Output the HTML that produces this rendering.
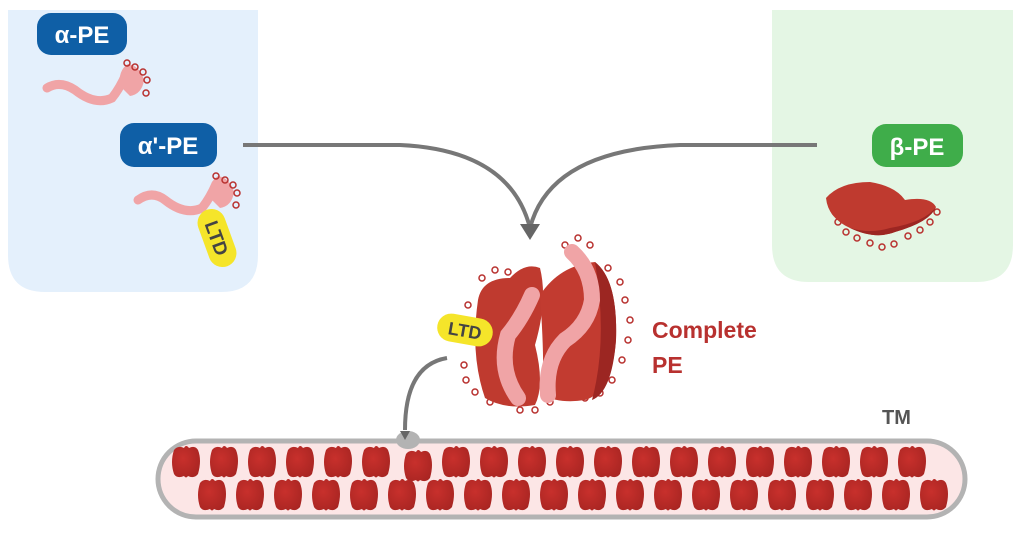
<!DOCTYPE html>
<html><head><meta charset="utf-8"><style>
html,body{margin:0;padding:0;background:#fff;}
body{width:1023px;height:530px;overflow:hidden;font-family:"Liberation Sans",sans-serif;}
</style></head><body>
<svg width="1023" height="530" viewBox="0 0 1023 530" xmlns="http://www.w3.org/2000/svg">
<defs>
<radialGradient id="dk" cx="40%" cy="40%" r="70%"><stop offset="0" stop-color="#c8302c"/><stop offset="1" stop-color="#a82522"/></radialGradient>
<g id="disc"><path d="M-12,-12 Q-8,-17 -2,-14 Q0,-18 3,-14 Q9,-17 12,-12 Q16,-2 12,12 Q8,17 2,14 Q0,17 -2,14 Q-9,17 -12,12 Q-16,0 -12,-12Z" fill="url(#dk)"/></g>
</defs>
<path d="M8,10 H258 V255 Q258,292 221,292 H45 Q8,292 8,255Z" fill="#e4f0fc"/>
<path d="M772,10 H1013 V245 Q1013,282 976,282 H809 Q772,282 772,245Z" fill="#e4f6e4"/>
<rect x="37" y="13" width="90" height="42" rx="14" fill="#0f5fa6"/>
<text x="82" y="43" font-size="24" font-weight="bold" fill="#fff" text-anchor="middle">α-PE</text>
<rect x="120" y="123" width="97" height="44" rx="14" fill="#0f5fa6"/>
<text x="168" y="154" font-size="24" font-weight="bold" fill="#fff" text-anchor="middle">α'-PE</text>
<rect x="872" y="124" width="91" height="43" rx="14" fill="#3fad4a"/>
<text x="917" y="155" font-size="24" font-weight="bold" fill="#fff" text-anchor="middle">β-PE</text>
<g fill="none" stroke-linecap="round">
<path d="M47,88 Q60,80 75,90 Q95,106 112,98 Q120,88 126,74" stroke="#f0a4a6" stroke-width="9"/>
<path d="M138,200 Q152,190 165,200 Q185,216 202,208 Q210,198 216,184" stroke="#f0a4a6" stroke-width="9"/>
</g>
<path d="M120,86 Q118,70 128,64 Q140,66 144,80 Q142,94 130,96 Z" fill="#f0a4a6"/>
<path d="M210,198 Q208,182 218,176 Q230,178 234,192 Q232,206 220,208 Z" fill="#f0a4a6"/>
<g fill="none" stroke="#b8312f" stroke-width="1.5">
<circle cx="127" cy="63" r="3"/><circle cx="135" cy="67" r="3"/><circle cx="143" cy="72" r="3"/><circle cx="147" cy="80" r="3"/><circle cx="146" cy="93" r="3"/>
<circle cx="216" cy="176" r="3"/><circle cx="225" cy="180" r="3"/><circle cx="233" cy="185" r="3"/><circle cx="237" cy="193" r="3"/><circle cx="236" cy="205" r="3"/>
</g>
<g transform="translate(217,238) rotate(70)"><rect x="-30" y="-14" width="60" height="28" rx="14" fill="#f5e52a"/><text x="0" y="7" font-size="19" font-weight="bold" fill="#444" text-anchor="middle">LTD</text></g>
<g fill="none" stroke="#777" stroke-width="4">
<path d="M243,145 H400 Q510,150 530,228"/>
<path d="M817,145 H680 Q550,150 530,228"/>
<path d="M447,358 Q405,365 405,430"/>
</g>
<path d="M520,224 L540,224 L530,240Z" fill="#666"/>
<g fill="none" stroke="#b8312f" stroke-width="1.5">
<circle cx="835" cy="212" r="3"/><circle cx="838" cy="222" r="3"/><circle cx="846" cy="232" r="3"/><circle cx="857" cy="238" r="3"/><circle cx="870" cy="243" r="3"/><circle cx="882" cy="247" r="3"/><circle cx="894" cy="244" r="3"/><circle cx="908" cy="236" r="3"/><circle cx="920" cy="230" r="3"/><circle cx="930" cy="222" r="3"/><circle cx="937" cy="212" r="3"/>
</g>
<path d="M826,198 Q840,182 870,182 Q895,186 905,200 Q930,196 936,207 Q930,222 895,232 Q875,240 850,228 Q828,218 826,198Z" fill="#bf3a2f"/>
<path d="M850,228 Q875,240 895,232 Q930,222 936,207 Q925,222 890,228 Q870,234 850,228Z" fill="#9c2622"/>
<!-- complex -->
<g fill="none" stroke="#b8312f" stroke-width="1.5">
<circle cx="468" cy="305" r="3"/><circle cx="463" cy="320" r="3"/><circle cx="464" cy="365" r="3"/><circle cx="466" cy="380" r="3"/><circle cx="475" cy="392" r="3"/><circle cx="490" cy="402" r="3"/><circle cx="482" cy="278" r="3"/><circle cx="495" cy="270" r="3"/><circle cx="508" cy="272" r="3"/><circle cx="520" cy="410" r="3"/><circle cx="535" cy="410" r="3"/><circle cx="550" cy="402" r="3"/><circle cx="565" cy="245" r="3"/><circle cx="578" cy="238" r="3"/><circle cx="590" cy="245" r="3"/><circle cx="608" cy="268" r="3"/><circle cx="620" cy="282" r="3"/><circle cx="625" cy="300" r="3"/><circle cx="630" cy="320" r="3"/><circle cx="628" cy="340" r="3"/><circle cx="622" cy="360" r="3"/><circle cx="612" cy="380" r="3"/><circle cx="600" cy="393" r="3"/><circle cx="585" cy="398" r="3"/>
</g>
<path d="M478,300 Q482,278 510,278 Q525,262 540,268 Q548,300 535,345 Q545,385 535,405 Q505,410 485,398 Q470,355 478,300Z" fill="#bf3a2f"/>
<path d="M540,295 Q560,265 595,262 Q618,280 616,340 Q612,392 585,400 Q560,404 542,395 Q545,365 540,295Z" fill="#c23b30"/>
<path d="M595,262 Q618,280 616,340 Q612,392 592,400 Q608,340 595,262Z" fill="#9c2622"/>
<g fill="none" stroke-linecap="round">
<path d="M572,252 Q592,270 592,300 Q588,325 565,340 Q545,360 548,395" stroke="#f0a4a6" stroke-width="16"/>
<path d="M532,295 Q522,318 508,335 Q498,370 518,398" stroke="#f0a4a6" stroke-width="16"/>
</g>
<g transform="translate(465,330) rotate(10)"><rect x="-28" y="-14" width="56" height="28" rx="14" fill="#f5e52a"/><text x="0" y="7" font-size="18" font-weight="bold" fill="#444" text-anchor="middle">LTD</text></g>
<text x="652" y="338" font-size="23" font-weight="bold" fill="#b8312f">Complete</text>
<text x="652" y="373" font-size="23" font-weight="bold" fill="#b8312f">PE</text>
<text x="882" y="424" font-size="20" font-weight="bold" fill="#555">TM</text>
<rect x="158" y="441" width="807" height="76" rx="38" fill="#fce6e6" stroke="#b3b3b3" stroke-width="5"/>
<ellipse cx="408" cy="440" rx="12" ry="9" fill="#b3b3b3"/>
<path d="M400,431 L410,431 L405,440Z" fill="#666"/>
<g>
<use href="#disc" x="186" y="462"/><use href="#disc" x="224" y="462"/><use href="#disc" x="262" y="462"/><use href="#disc" x="300" y="462"/><use href="#disc" x="338" y="462"/><use href="#disc" x="376" y="462"/><use href="#disc" x="418" y="466"/><use href="#disc" x="456" y="462"/><use href="#disc" x="494" y="462"/><use href="#disc" x="532" y="462"/><use href="#disc" x="570" y="462"/><use href="#disc" x="608" y="462"/><use href="#disc" x="646" y="462"/><use href="#disc" x="684" y="462"/><use href="#disc" x="722" y="462"/><use href="#disc" x="760" y="462"/><use href="#disc" x="798" y="462"/><use href="#disc" x="836" y="462"/><use href="#disc" x="874" y="462"/><use href="#disc" x="912" y="462"/>
<use href="#disc" x="212" y="495"/><use href="#disc" x="250" y="495"/><use href="#disc" x="288" y="495"/><use href="#disc" x="326" y="495"/><use href="#disc" x="364" y="495"/><use href="#disc" x="402" y="495"/><use href="#disc" x="440" y="495"/><use href="#disc" x="478" y="495"/><use href="#disc" x="516" y="495"/><use href="#disc" x="554" y="495"/><use href="#disc" x="592" y="495"/><use href="#disc" x="630" y="495"/><use href="#disc" x="668" y="495"/><use href="#disc" x="706" y="495"/><use href="#disc" x="744" y="495"/><use href="#disc" x="782" y="495"/><use href="#disc" x="820" y="495"/><use href="#disc" x="858" y="495"/><use href="#disc" x="896" y="495"/><use href="#disc" x="934" y="495"/>
</g>
</svg>
</body></html>
